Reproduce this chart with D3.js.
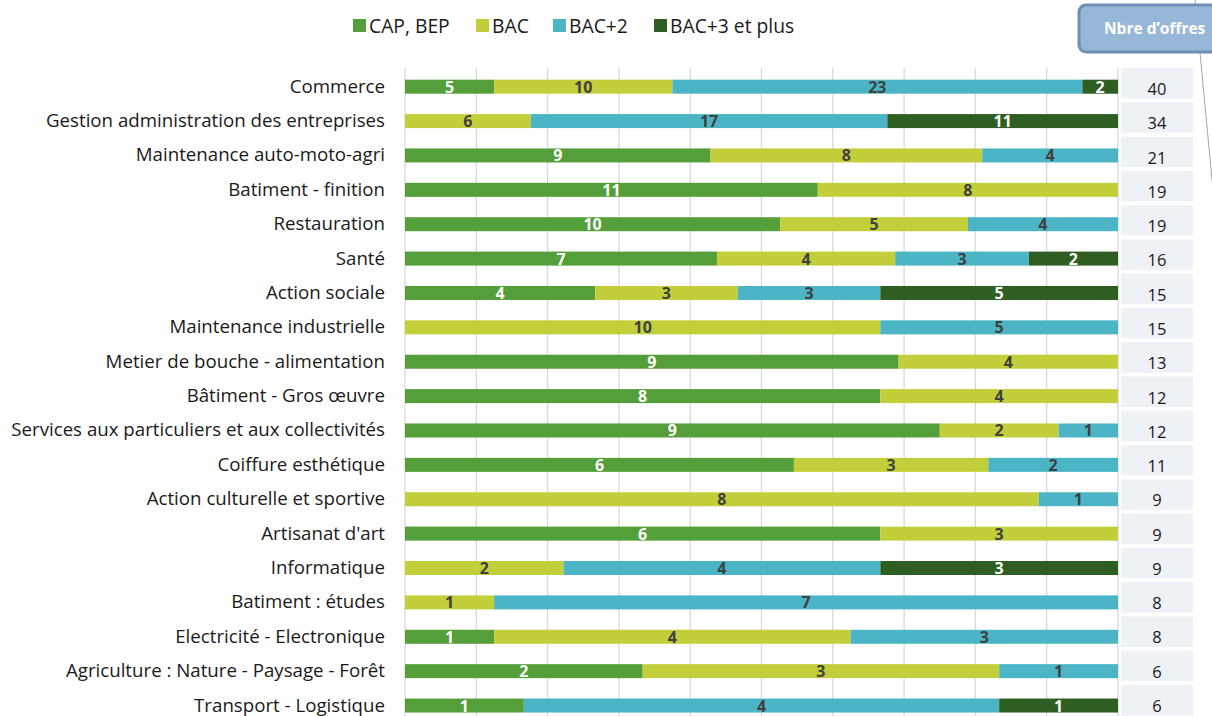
<!DOCTYPE html>
<html>
<head>
<meta charset="utf-8">
<script src="https://cdnjs.cloudflare.com/ajax/libs/d3/7.8.5/d3.min.js"></script>
<style>
  body { margin: 0; background: #fff; }
  svg { font-family: "Open Sans", sans-serif; }
</style>
</head>
<body>
<svg id="chart" width="1212" height="716"></svg>
<script>
const categories = [
  'Commerce', 'Gestion administration des entreprises', 'Maintenance auto-moto-agri',
  'Batiment - finition', 'Restauration', 'Santé', 'Action sociale', 'Maintenance industrielle',
  'Metier de bouche - alimentation', 'Bâtiment - Gros œuvre',
  'Services aux particuliers et aux collectivités', 'Coiffure esthétique',
  'Action culturelle et sportive', "Artisanat d'art", 'Informatique', 'Batiment : études',
  'Electricité - Electronique', 'Agriculture : Nature - Paysage - Forêt', 'Transport - Logistique'
];
const seriesNames = ['CAP, BEP', 'BAC', 'BAC+2', 'BAC+3 et plus'];
const capBep   = [5, 0, 9, 11, 10, 7, 4, 0, 9, 8, 9, 6, 0, 6, 0, 0, 1, 2, 1];
const bac      = [10, 6, 8, 8, 5, 4, 3, 10, 4, 4, 2, 3, 8, 3, 2, 1, 4, 3, 0];
const bac2     = [23, 17, 4, 0, 4, 3, 3, 5, 0, 0, 1, 2, 1, 0, 4, 7, 3, 1, 4];
const bac3plus = [2, 11, 0, 0, 0, 2, 5, 0, 0, 0, 0, 0, 0, 0, 3, 0, 0, 0, 1];
const colors = ['#559f3a', '#c3cf3a', '#4bb5c5', '#2f5e22'];
const labelColors = ['#fff', '#404040', '#404040', '#fff'];
const xTicks = d3.range(0, 1.0001, 0.1);

const series = [capBep, bac, bac2, bac3plus];
const rows = categories.map((c, i) => {
  const vals = series.map(s => s[i]);
  return { cat: c, vals, total: d3.sum(vals) };
});

const svg = d3.select('#chart');
const x = d3.scaleLinear().domain([0, 1]).range([405, 1118]);
const y = d3.scaleBand().domain(categories).range([69.5, 69.5 + 34.38 * categories.length]);
// the totals table sits on a slightly different grid
const yCell = d3.scaleBand().domain(categories).range([68, 68 + 34.28 * categories.length]);
const barH = 14;

// gridlines
svg.append('g').selectAll('line').data(xTicks).join('line')
  .attr('x1', d => x(d)).attr('x2', d => x(d))
  .attr('y1', 68).attr('y2', 716)
  .attr('stroke', '#d9d9d9').attr('stroke-width', 1.3);

// stacked bars (100%)
const stack = d3.stack().keys([0, 1, 2, 3]).offset(d3.stackOffsetExpand)
  .value((r, k) => r.vals[k]);
const layers = stack(rows);

const g = svg.append('g');
layers.forEach((layer, k) => {
  const sel = g.append('g');
  const segs = layer.filter(d => d[1] > d[0]);
  sel.selectAll('rect').data(segs).join('rect')
    .attr('x', d => x(d[0]))
    .attr('width', d => x(d[1]) - x(d[0]))
    .attr('y', d => y(d.data.cat) + y.bandwidth() / 2 - barH / 2)
    .attr('height', barH)
    .attr('fill', colors[k]);
  sel.selectAll('text').data(segs).join('text')
    .attr('x', d => (x(d[0]) + x(d[1])) / 2)
    .attr('y', d => y(d.data.cat) + y.bandwidth() / 2 + 6)
    .attr('text-anchor', 'middle')
    .attr('font-size', 16).attr('font-weight', 'bold')
    .attr('fill', labelColors[k])
    .text(d => d.data.vals[k]);
});

// category labels
svg.append('g').selectAll('text').data(categories).join('text')
  .attr('x', 385).attr('y', d => y(d) + y.bandwidth() / 2 + 6)
  .attr('text-anchor', 'end').attr('font-size', 18.7).attr('fill', '#1a1a1a')
  .text(d => d);

// totals column
const tot = svg.append('g');
tot.selectAll('rect').data(rows).join('rect')
  .attr('x', 1121).attr('width', 72)
  .attr('y', d => yCell(d.cat)).attr('height', 30.5)
  .attr('fill', '#eef1f6');
tot.selectAll('text').data(rows).join('text')
  .attr('x', 1157).attr('y', d => yCell(d.cat) + 27)
  .attr('text-anchor', 'middle').attr('font-size', 16.5).attr('fill', '#1a1a1a')
  .text(d => d.total);

// connector line and header
svg.append('line').attr('x1', 1195).attr('y1', 0).attr('x2', 1213).attr('y2', 190)
  .attr('stroke', '#a6a6a6').attr('stroke-width', 1);
svg.append('rect').attr('x', 1079).attr('y', 5).attr('width', 150).attr('height', 47)
  .attr('rx', 7).attr('fill', '#97b7d9').attr('stroke', '#6e8fb3').attr('stroke-width', 3);
svg.append('text').attr('x', 1104).attr('y', 34).attr('font-size', 15.5).attr('font-weight', 'bold')
  .attr('fill', '#fff').text('Nbre d’offres');

// legend
const legendX = [353, 476, 553, 654];
const leg = svg.append('g').selectAll('g').data(seriesNames).join('g')
  .attr('transform', (d, i) => `translate(${legendX[i]},19)`);
leg.append('rect').attr('width', 13).attr('height', 13).attr('fill', (d, i) => colors[i]);
leg.append('text').attr('x', 16).attr('y', 14).attr('font-size', 19.3).attr('fill', '#1a1a1a').text(d => d);
</script>
</body>
</html>
